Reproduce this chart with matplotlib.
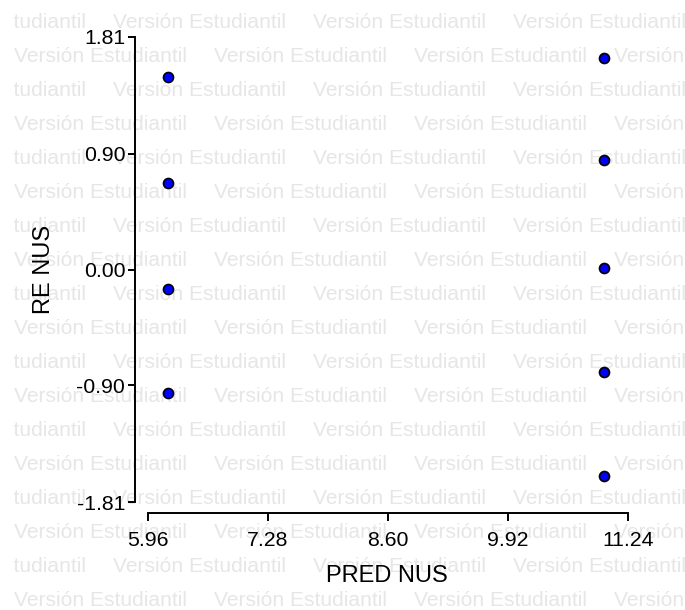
"""Residuals vs predicted values (InfoStat-style scatter with student watermark)."""

import matplotlib

matplotlib.use("Agg")
import matplotlib.pyplot as plt

# data
pred_nus = [6.18, 6.18, 6.18, 6.18, 10.98, 10.98, 10.98, 10.98, 10.98]
re_nus = [1.50, 0.67, -0.15, -0.96, 1.65, 0.85, 0.01, -0.80, -1.61]

x_ticks = [5.96, 7.28, 8.60, 9.92, 11.24]
y_ticks = [-1.81, -0.90, 0.00, 0.90, 1.81]

WATERMARK = "Versión Estudiantil"
FONT = "Liberation Sans"

W, H = 685, 610


def draw_watermark(fig):
    """Tile the light grey watermark behind everything (clipped on the left)."""
    bg = fig.add_axes([14 / W, 0, (W - 14) / W, 1], zorder=-1)
    bg.set_axis_off()
    bg.set_xlim(14, W)
    bg.set_ylim(H, 0)
    for row in range(18):
        y = 28.5 + 34 * row
        start = 113 if row % 2 == 0 else 14
        for k in range(-1, 4):
            bg.text(start + 200 * k, y, WATERMARK, ha="left", va="baseline",
                    fontsize=15.1, family=FONT, color="#e6e6e6", clip_on=True)


fig = plt.figure(figsize=(W / 100, H / 100), dpi=100)
draw_watermark(fig)

ax = fig.add_axes([148 / W, (H - 502) / H, 480 / W, 465 / H])
ax.patch.set_visible(False)

ax.plot(pred_nus, re_nus, linestyle="none", marker="o", markersize=7.2,
        markerfacecolor="#0000ff", markeredgecolor="black",
        markeredgewidth=1.2, clip_on=False, zorder=3)

ax.set_xlim(x_ticks[0], x_ticks[-1])
ax.set_ylim(y_ticks[0], y_ticks[-1])
ax.set_xticks(x_ticks, [f"{v:.2f}" for v in x_ticks])
ax.set_yticks(y_ticks, [f"{v:.2f}" for v in y_ticks])

for side in ("top", "right"):
    ax.spines[side].set_visible(False)
ax.spines["left"].set_position(("outward", 9.4))
ax.spines["bottom"].set_position(("outward", 7.9))
for side in ("left", "bottom"):
    ax.spines[side].set_linewidth(1.4)

ax.tick_params(axis="x", length=6, width=1.4, pad=7, labelsize=15.3)
ax.tick_params(axis="y", length=5, width=1.4, pad=2, labelsize=15.3)
for lab in ax.get_xticklabels() + ax.get_yticklabels():
    lab.set_family(FONT)

ax.set_xlabel("PRED NUS", fontsize=17, family=FONT, va="baseline")
ax.xaxis.set_label_coords(0.498, -0.172)
ax.set_ylabel("RE NUS", fontsize=17, family=FONT, va="baseline")
ax.yaxis.set_label_coords(-0.204, 0.5)

fig.savefig("out.png", dpi=100)
